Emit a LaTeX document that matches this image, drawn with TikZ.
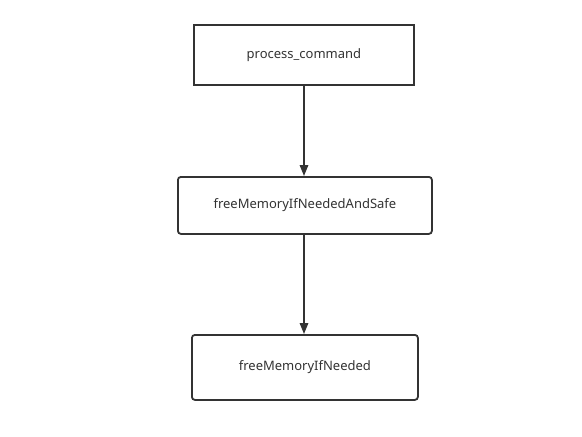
\documentclass[tikz,border=0pt]{standalone}
\usepackage{fontspec}
\setmainfont{Noto Sans}
\usetikzlibrary{arrows.meta}
\definecolor{ink}{HTML}{333333}
\begin{document}
\begin{tikzpicture}[x=1pt,y=-1pt,
  box/.style={draw=ink, line width=1.8pt, fill=white, font=\fontsize{13}{15}\selectfont, text=ink},
  flow/.style={draw=ink, line width=1.6pt, -{Triangle[length=11pt,width=8.5pt]}}]
  \useasboundingbox[fill=white] (0,0) rectangle (582,437);
  \node[box, minimum width=220pt, minimum height=60pt, anchor=north west] (cmd) at (193,24) {process\_command};
  \node[box, rounded corners=3pt, minimum width=254pt, minimum height=57pt, anchor=north west] (safe) at (177,176) {freeMemoryIfNeededAndSafe};
  \node[box, rounded corners=3pt, minimum width=226pt, minimum height=65pt, anchor=north west] (need) at (191,334) {freeMemoryIfNeeded};
  \draw[flow] (cmd.south -| 304,0) -- (safe.north -| 304,0);
  \draw[flow] (safe.south -| 304,0) -- (need.north -| 304,0);
\end{tikzpicture}
\end{document}
